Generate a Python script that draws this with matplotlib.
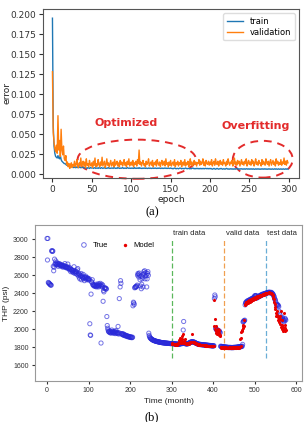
import matplotlib
matplotlib.use("Agg")
import matplotlib.pyplot as plt
from matplotlib.patches import Ellipse
from matplotlib.ticker import FormatStrFormatter
import numpy as np

# ---------------- data: panel (a) ----------------
train_err = [
    .195,.060,.035,.026,.022,.021,.020,.023,.020,.019,
    .024,.018,.016,.015,.014,.013,.013,.012,.011,.011,
    .010,.010,.009,.010,.009,.009,.009,.008,.009,.008,
    .008,.009,.008,.008,.009,.008,.008,.008,.009,.008,
    .008,.0075,.008,.0075,.007,.008,.0075,.007,.008,.0075,
    .0075,.008,.007,.0075,.008,.007,.0075,.0075,.007,.008,
    .0075,.007,.008,.0075,.007,.0075,.008,.007,.0075,.007,
    .0075,.008,.007,.0075,.007,.0075,.0075,.007,.008,.0075,
    .007,.0075,.007,.008,.0075,.007,.0075,.007,.0075,.008,
    .007,.0075,.007,.0075,.007,.008,.0075,.007,.0075,.007,
    .0075,.007,.0075,.007,.008,.007,.0075,.007,.0075,.007,
    .008,.007,.0075,.007,.007,.0075,.007,.0075,.007,.0075,
    .007,.007,.0075,.007,.0075,.007,.007,.0075,.007,.0075,
    .007,.0075,.007,.007,.0075,.007,.0075,.007,.007,.0075,
    .007,.007,.0075,.007,.0075,.007,.007,.0075,.007,.007,
    .0075,.007,.007,.0065,.007,.0075,.007,.0065,.007,.007,
    .0065,.007,.0075,.007,.0065,.007,.007,.0065,.007,.0075,
    .007,.0065,.007,.007,.0065,.007,.0065,.007,.0075,.007,
    .0065,.007,.0065,.007,.007,.0065,.007,.0065,.007,.0065,
    .007,.0065,.007,.0065,.007,.007,.0065,.007,.0065,.007,
    .0065,.007,.0065,.006,.0065,.007,.0065,.006,.0065,.007,
    .0065,.006,.0065,.0065,.007,.0065,.006,.0065,.0065,.006,
    .0065,.007,.0065,.006,.0065,.006,.0065,.0065,.006,.0065,
    .006,.0065,.006,.0065,.007,.0065,.006,.0065,.006,.0065,
    .0065,.006,.0065,.006,.0065,.006,.0065,.0065,.006,.0065,
    .006,.0065,.006,.0065,.006,.0065,.006,.006,.0065,.006,
    .0065,.006,.0065,.006,.006,.0065,.006,.0065,.006,.0065,
    .006,.0065,.006,.006,.0065,.006,.0065,.006,.006,.0065,
    .006,.006,.0065,.006,.0065,.006,.006,.0065,.006,.006,
    .0065,.006,.006,.0065,.006,.006,.0065,.006,.0065,.006,
]
val_err = [
    .128,.052,.040,.032,.028,.036,.026,.073,.030,.042,
    .022,.056,.030,.024,.035,.019,.017,.023,.012,.015,
    .009,.013,.007,.011,.014,.008,.012,.010,.016,.009,
    .012,.018,.010,.008,.014,.011,.020,.009,.013,.016,
    .010,.015,.008,.019,.011,.013,.009,.017,.012,.010,
    .014,.008,.016,.011,.020,.009,.013,.010,.018,.012,
    .009,.015,.011,.021,.010,.013,.016,.008,.012,.019,
    .011,.014,.009,.013,.017,.010,.012,.015,.009,.018,
    .011,.013,.016,.010,.014,.009,.017,.012,.015,.010,
    .013,.018,.011,.014,.009,.016,.012,.019,.010,.013,
    .015,.011,.017,.009,.014,.012,.016,.010,.018,.013,
    .030,.012,.015,.010,.014,.017,.011,.013,.009,.016,
    .012,.014,.019,.010,.013,.015,.011,.017,.009,.014,
    .012,.016,.010,.018,.013,.011,.015,.009,.014,.017,
    .011,.013,.016,.010,.019,.012,.014,.009,.015,.011,
    .017,.010,.013,.015,.011,.018,.009,.014,.012,.016,
    .010,.014,.012,.017,.009,.013,.015,.011,.018,.010,
    .014,.012,.016,.009,.013,.019,.011,.015,.010,.014,
    .017,.012,.015,.010,.014,.013,.018,.011,.016,.012,
    .014,.019,.011,.015,.010,.017,.013,.012,.016,.011,
    .015,.012,.018,.010,.014,.016,.011,.019,.013,.012,
    .016,.010,.014,.017,.012,.015,.011,.018,.013,.014,
    .010,.016,.012,.019,.014,.011,.015,.013,.017,.010,
    .014,.020,.012,.015,.011,.017,.013,.016,.010,.014,
    .018,.012,.015,.011,.016,.013,.019,.010,.014,.017,
    .012,.015,.011,.018,.013,.016,.010,.014,.019,.012,
    .015,.011,.017,.013,.014,.010,.018,.012,.016,.013,
    .011,.019,.014,.012,.016,.010,.015,.018,.011,.014,
    .017,.012,.015,.010,.019,.013,.016,.011,.014,.012,
    .018,.011,.015,.013,.020,.012,.016,.011,.017,.014,
]
epochs = list(range(len(train_err)))
err_ticks = [0.0, 0.025, 0.05, 0.075, 0.1, 0.125, 0.15, 0.175, 0.2]

# ---------------- data: panel (b) ----------------
true_thp = [
    3010,2770,3010,2520,2515,2510,2505,2500,2495,2490,
    2490,2870,2875,2865,2870,2700,2650,2690,2780,2720,
    2735,2760,2725,2715,2740,2720,2730,2700,2725,2715,
    2730,2715,2705,2720,2710,2700,2715,2705,2690,2710,
    2700,2705,2695,2730,2690,2700,2685,2695,2680,2690,
    2725,2680,2675,2690,2660,2680,2670,2640,2665,2655,
    2660,2640,2650,2630,2655,2695,2640,2620,2635,2645,
    2625,2640,2610,2660,2675,2600,2620,2580,2610,2560,
    2600,2590,2620,2550,2595,2580,2570,2610,2560,2575,
    2540,2580,2570,2590,2560,2575,2550,2565,2570,2560,
    2555,2545,2560,2060,1935,1930,2390,2530,2520,2550,
    2500,2490,2495,2480,2485,2490,2475,2480,2500,2470,
    2485,2480,2490,2505,2470,2480,2500,2485,2510,2490,
    1845,2480,2500,2470,2490,2310,2430,2415,2460,2450,
    2460,2455,2445,2450,2140,2040,2010,1990,1975,1970,
    1965,1980,1960,1970,1955,1965,1990,1975,1960,1970,
    1955,1965,1975,1960,1950,1970,1985,1960,1955,1965,
    1950,2030,1960,1945,2340,1955,2470,2540,2510,1950,
    1945,1940,1950,1935,1945,1930,1940,1935,1925,1930,
    1925,1930,1920,1925,1915,1920,1920,1915,1910,1915,
    1910,1915,1910,1905,1910,1905,1910,2260,2300,2290,
    2275,2460,2465,2470,2475,2470,2480,2490,2600,2620,
    2610,2580,2625,2600,2550,2480,2590,2450,2500,2560,
    2580,2470,2610,2640,2620,2650,2560,2590,2630,2600,
    2470,2560,2620,2640,2600,1955,1930,1915,1905,1900,
    1895,1890,1888,1885,1880,1878,1876,1874,1872,1870,
    1868,1867,1866,1864,1863,1862,1860,1859,1858,1857,
    1856,1855,1854,1853,1852,1851,1850,1849,1849,1848,
    1848,1847,1846,1846,1845,1845,1844,1844,1843,1843,
    1842,1842,1841,1841,1840,1840,1840,1839,1839,1838,
    1840,1842,1838,1840,1836,1838,1835,1837,1834,1836,
    1833,1835,1832,1834,1830,1833,1831,1835,1832,1834,
    1836,1838,1835,1840,1842,1838,1845,1840,1990,2085,
    1845,1842,1840,1838,1836,1835,1838,1836,1834,1838,
    1840,1842,1845,1848,1850,1852,1855,1858,1856,1858,
    1860,1858,1856,1858,1855,1852,1850,1848,1845,1842,
    1840,1838,1836,1834,1832,1833,1830,1832,1828,1830,
    1827,1829,1826,1828,1825,1827,1824,1826,1823,1825,
    1822,1824,1821,1823,1820,1822,1819,1821,1818,1820,
    1817,1819,1816,1818,1815,1817,1814,1816,1813,1815,
    1812,1814,1815,2340,2380,2360,2010,2000,1995,1990,
    1985,1990,1980,1975,1970,1980,1965,1960,1810,1805,
    1808,1805,1803,1806,1802,1804,1800,1803,1799,1801,
    1798,1800,1797,1799,1796,1798,1795,1797,1794,1796,
    1795,1797,1794,1796,1793,1795,1794,1796,1793,1795,
    1796,1798,1795,1797,1796,1798,1797,1799,1798,1800,
    1800,1802,1801,1803,1802,1805,1804,1806,1805,1808,
    1810,1830,2080,2085,2090,2095,2100,2270,2290,2300,
    2295,2310,2300,2315,2305,2320,2310,2325,2315,2330,
    2320,2335,2325,2340,2330,2345,2335,2350,2340,2355,
    2370,2372,2368,2375,2370,2345,2350,2360,2355,2365,
    2360,2370,2365,2375,2370,2380,2375,2385,2380,2390,
    2385,2390,2388,2395,2392,2398,2395,2400,2398,2405,
    2402,2408,2405,2410,2406,2412,2408,2410,2405,2400,
    2410,2405,2400,2395,2390,2380,2370,2360,2340,2330,
    2320,2300,2280,2270,2275,2265,2270,2260,2250,2200,
    2180,2160,2130,2120,2110,2100,2120,2130,2110,2100,
    2090,2080,2100,2120,2110,2100,
]
model_thp = [
    1840,1835,1838,1832,1836,1830,1834,1828,1832,1830,
    1826,1830,1828,1832,1830,1835,1840,1850,1880,1860,
    1870,1900,1850,1880,1920,1860,1890,1840,1950,1870,
    1860,1845,1890,1840,1835,1850,1838,1832,1836,1840,
    1842,1838,1845,1848,1850,1855,1852,1858,1855,1860,
    1950,1856,1862,1858,1855,1850,1848,1845,1840,1838,
    1836,1834,1832,1830,1828,1830,1826,1828,1825,1827,
    1824,1826,1822,1825,1821,1823,1820,1822,1818,1821,
    1817,1820,1816,1818,1815,1817,1813,1816,1812,1815,
    1811,1814,1810,1813,1809,1812,1808,1811,1807,1810,
    1810,1808,2040,2320,2110,2000,1980,2030,1960,1990,
    1950,1970,2000,1930,1960,1990,1940,1920,1800,1805,
    1795,1800,1792,1798,1790,1796,1788,1795,1790,1797,
    1791,1796,1789,1794,1788,1795,1790,1797,1789,1793,
    1790,1796,1788,1794,1791,1797,1789,1795,1792,1798,
    1790,1796,1792,1799,1794,1800,1795,1802,1797,1803,
    1795,1800,1790,1805,1885,1800,1810,1965,1900,1980,
    1990,2010,2030,2050,2100,2030,2270,2280,2290,2300,
    2285,2300,2290,2310,2295,2315,2300,2320,2305,2325,
    2310,2330,2315,2335,2320,2340,2325,2345,2330,2350,
    2335,2355,2340,2360,2345,2365,2350,2368,2355,2370,
    2360,2372,2365,2375,2368,2380,2372,2384,2376,2388,
    2380,2390,2384,2394,2388,2398,2392,2400,2395,2402,
    2398,2404,2400,2406,2402,2408,2404,2406,2402,2400,
    2400,2395,2390,2380,2370,2350,2330,2300,2280,2250,
    2220,2180,2150,2200,2160,2130,2100,2150,2120,2080,
    2150,2110,2060,2020,2200,2050,2000,2100,1980,2020,
    2180,2000,1980,2050,2010,1990,
]
true_t = list(range(len(true_thp)))
model_t = list(range(300, 300 + len(model_thp)))
split_t = [300, 427, 527]
split_names = ["train data", "valid data", "test data"]
split_colors = ["#5cb85c", "#f0a050", "#6aaed6"]

NARROW = ["Liberation Sans Narrow", "Liberation Sans", "DejaVu Sans"]

# ---------------- figure ----------------
fig = plt.figure(figsize=(3.05, 4.22), dpi=100)

# panel (a)
ax1 = fig.add_axes([43/305, 1-178/422, 256/305, 169/422])
ax1.plot(epochs, train_err, color="#1f77b4", lw=1.0, label="train")
ax1.plot(epochs, val_err, color="#ff7f0e", lw=1.0, label="validation")
ax1.set_xlim(-12, 313)
ax1.set_ylim(-0.005, 0.2065)
ax1.set_yticks(err_ticks)
ax1.yaxis.set_major_formatter(FormatStrFormatter("%.3f"))
ax1.set_xlabel("epoch", fontsize=6.5, labelpad=1, color="#222")
ax1.set_ylabel("error", fontsize=6.5, color="#222")
ax1.yaxis.set_label_coords(-0.125, 0.5)
ax1.tick_params(labelsize=6.5, length=3, pad=2, colors="#333")
for s in ax1.spines.values():
    s.set_color("#555")
    s.set_linewidth(0.8)
leg = ax1.legend(loc="upper right", fontsize=6, handlelength=2.0,
                 borderpad=0.4, labelspacing=0.3, framealpha=1)
leg.get_frame().set_edgecolor("#ddd")
red = "#e32b2b"
ax1.add_patch(Ellipse((107, 0.0185), 150, 0.049, fill=False, ec=red,
                      lw=1.4, ls=(0, (4, 3)), clip_on=False))
ax1.add_patch(Ellipse((267, 0.0185), 76, 0.046, fill=False, ec=red,
                      lw=1.4, ls=(0, (4, 3)), clip_on=False))
ax1.text(94, 0.064, "Optimized", color=red, fontsize=8, fontweight="bold",
         ha="center", va="center")
ax1.text(258, 0.060, "Overfitting", color=red, fontsize=8, fontweight="bold",
         ha="center", va="center")

fig.text(152/305, 1-212/422, "(a)", family="Liberation Serif", fontsize=9,
         ha="center", va="center")

# panel (b)
ax2 = fig.add_axes([35/305, 1-381/422, 267/305, 156/422])
ax2.scatter(true_t, true_thp, s=9, facecolors="none", edgecolors="#2a2ad8",
            linewidths=0.7, alpha=0.65, label="True", zorder=2)
ax2.scatter(model_t, model_thp, s=5, color="#e80000", label="Model",
            zorder=3, linewidths=0)
for t, name, c in zip(split_t, split_names, split_colors):
    ax2.vlines(t, 1680, 2990, colors=c, linestyles=(0, (4, 2)), lw=0.9, zorder=1)
    ax2.text(t + 3, 3065, name, fontsize=5.5, family=NARROW,
             ha="left", va="center", color="#222")
ax2.set_xlim(-29, 614)
ax2.set_ylim(1422, 3160)
ax2.set_xticks([0, 100, 200, 300, 400, 500, 600])
ax2.set_yticks([1600, 1800, 2000, 2200, 2400, 2600, 2800, 3000])
ax2.tick_params(labelsize=5, length=2.5, pad=2, colors="#333")
for lab in ax2.get_xticklabels() + ax2.get_yticklabels():
    lab.set_family(NARROW)
for s in ax2.spines.values():
    s.set_color("#999")
    s.set_linewidth(0.8)
ax2.set_xlabel("Time (month)", fontsize=6, labelpad=3, color="#222",
               family=NARROW)
ax2.set_ylabel("THP (psi)", fontsize=6, color="#222", family=NARROW)
ax2.yaxis.set_label_coords(-0.095, 0.5)
ax2.legend(loc="center", bbox_to_anchor=(0.30, 0.87), ncol=2, frameon=False,
           handletextpad=0.1, columnspacing=1.2, markerscale=1.1,
           prop={"family": NARROW, "size": 5.5})

fig.text(152/305, 1-417/422, "(b)", family="Liberation Serif", fontsize=9,
         ha="center", va="center")

fig.savefig("out.png", dpi=100)
